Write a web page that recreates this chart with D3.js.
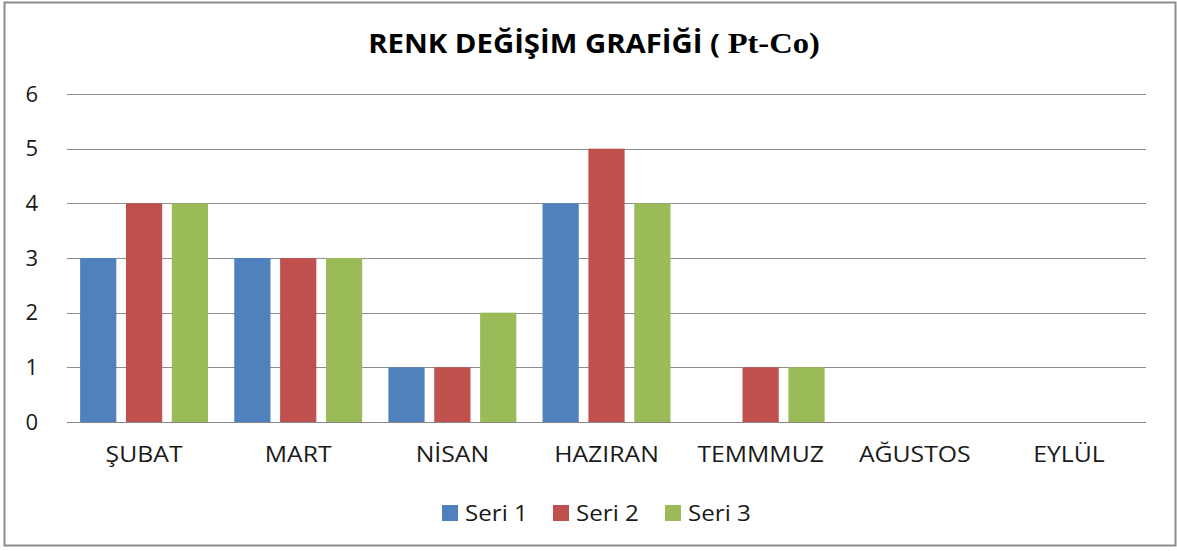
<!DOCTYPE html>
<html><head><meta charset="utf-8">
<script src="https://cdn.jsdelivr.net/npm/d3@7"></script>
<style>body{margin:0;background:#fff}svg{display:block}</style>
</head><body>
<script>
const categories = ["ŞUBAT","MART","NİSAN","HAZIRAN","TEMMMUZ","AĞUSTOS","EYLÜL"];
const seriesNames = ["Seri 1","Seri 2","Seri 3"];
const seri1 = [3,3,1,4,null,null,null];
const seri2 = [4,3,1,5,1,null,null];
const seri3 = [4,3,2,4,1,null,null];
const yTicks = [0,1,2,3,4,5,6];
const colors = ["#4F81BD","#C0504D","#9BBB59"];
const seriesValues = [seri1, seri2, seri3];

(function(){
const W = 1177, H = 551;
const svg = d3.select("body").append("svg").attr("width", W).attr("height", H);
const font = "'Open Sans', sans-serif";
const SX = 1.18;

svg.append("rect").attr("x",4.5).attr("y",2.5).attr("width",1171).attr("height",543)
  .attr("fill","#fff").attr("stroke","#8c8c8c").attr("stroke-width",2);

const pL = 67, pR = 1146, pT = 94, pB = 422;
const x = d3.scaleBand().domain(categories).range([pL, pR]).padding(0);
const y = d3.scaleLinear().domain([0,6]).range([pB, pT]);
const bw = x.bandwidth();
const x1 = d3.scaleBand().domain(seriesNames).range([bw*0.085, bw*0.915]).paddingInner(0.21);

svg.append("g").selectAll("line").data(yTicks.filter(d=>d>0)).join("line")
  .attr("x1", pL).attr("x2", pR)
  .attr("y1", d=>Math.round(y(d))+0.5).attr("y2", d=>Math.round(y(d))+0.5)
  .attr("stroke","#8c8c8c").attr("stroke-width",1.2);

const groups = svg.append("g").selectAll("g").data(categories).join("g")
  .attr("transform", d=>`translate(${x(d)},0)`);
groups.selectAll("rect").data((c,i)=>seriesNames.map((s,j)=>({s, v: seriesValues[j][i], j})).filter(d=>d.v!=null))
  .join("rect")
  .attr("x", d=>x1(d.s)).attr("width", x1.bandwidth())
  .attr("y", d=>y(d.v)).attr("height", d=>y(0)-y(d.v))
  .attr("fill", d=>colors[d.j]);

svg.append("line").attr("x1",pL).attr("x2",pR).attr("y1",Math.round(y(0))+0.5).attr("y2",Math.round(y(0))+0.5)
  .attr("stroke","#868686").attr("stroke-width",1.2);

svg.append("g").selectAll("text").data(yTicks).join("text")
  .attr("transform", d=>`translate(38,${y(d)}) scale(1.05,1)`).attr("dy","0.36em")
  .attr("text-anchor","end").attr("font-family",font).attr("font-size",21).attr("fill","#1a1a1a")
  .text(d=>d);

svg.append("g").selectAll("text").data(categories).join("text")
  .attr("transform", d=>`translate(${x(d)+bw/2},462) scale(${SX},1)`)
  .attr("text-anchor","middle").attr("font-family",font).attr("font-size",21).attr("fill","#1a1a1a")
  .text(d=>d);

const t = svg.append("text").attr("text-anchor","middle")
  .attr("font-weight","bold").attr("fill","#000");
t.append("tspan").attr("font-family",font).attr("font-size",27).text("RENK DEĞİŞİM GRAFİĞİ ( ");
t.append("tspan").attr("font-family","'Liberation Serif', serif").attr("font-size",30).text("Pt-Co)");
const tw = t.node().getComputedTextLength();
t.attr("transform", `translate(594,53) scale(${452/tw},1)`);

const legX = [442, 553, 665];
const leg = svg.append("g").selectAll("g").data(seriesNames).join("g")
  .attr("transform",(d,i)=>`translate(${legX[i]},505)`);
leg.append("rect").attr("width",16).attr("height",16).attr("fill",(d,i)=>colors[i]);
leg.append("text").attr("transform","translate(23,8) scale(1.15,1)").attr("dy","0.36em")
  .attr("font-family",font).attr("font-size",21).attr("fill","#1a1a1a").text(d=>d);
})();
</script>
</body></html>
